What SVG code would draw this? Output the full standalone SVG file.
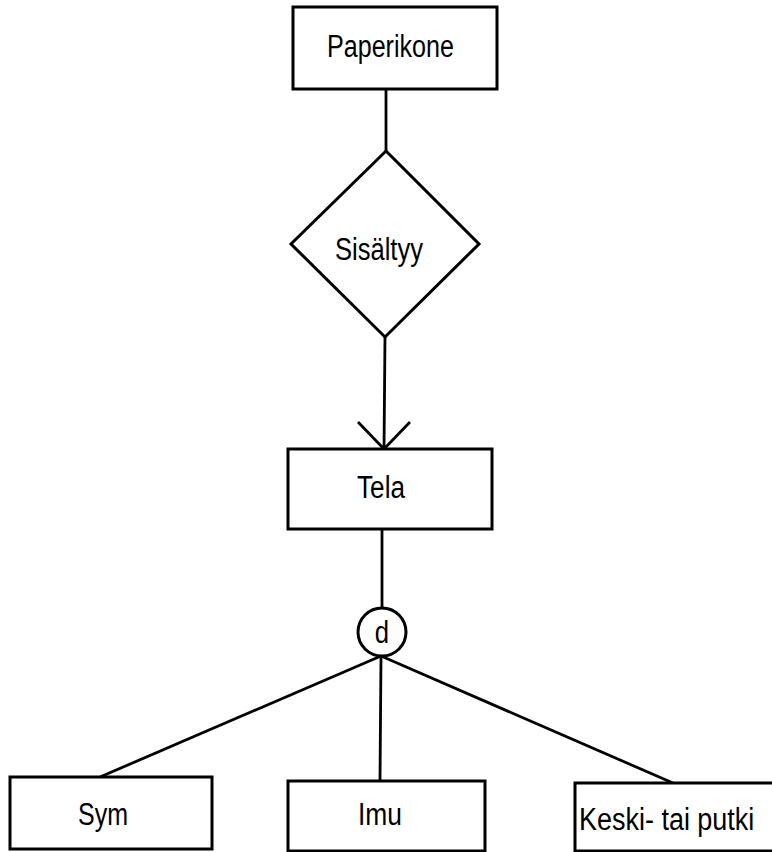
<svg xmlns="http://www.w3.org/2000/svg" width="772" height="852" viewBox="0 0 772 852">
  <style>
    .box { fill: #fff; stroke: #000; stroke-width: 3; }
    .edge { fill: none; stroke: #000; stroke-width: 2.8; }
    .lbl { font-family: "Liberation Sans", Arial, sans-serif; font-size: 31px; fill: #000; }
  </style>
  <rect width="772" height="852" fill="#fff"/>

  <g id="connectors">
    <line class="edge" x1="386" y1="89" x2="386" y2="151"/>
    <line class="edge" x1="385" y1="337" x2="384" y2="449"/>
    <polyline class="edge" points="358,422 384,449 410,422"/>
    <line class="edge" x1="382" y1="529" x2="382" y2="608"/>
    <line class="edge" x1="381" y1="656" x2="100" y2="777"/>
    <line class="edge" x1="381" y1="656" x2="380" y2="781"/>
    <line class="edge" x1="381" y1="656" x2="673" y2="783"/>
  </g>

  <g id="paperikone">
    <rect class="box" x="293" y="7" width="204" height="82"/>
    <text class="lbl" x="327" y="57" textLength="127" lengthAdjust="spacingAndGlyphs">Paperikone</text>
  </g>

  <g id="sisaltyy">
    <polygon class="box" points="386,151 479,244 385,337 291,244"/>
    <text class="lbl" x="335" y="260" textLength="88" lengthAdjust="spacingAndGlyphs">Sisältyy</text>
  </g>

  <g id="tela">
    <rect class="box" x="288" y="449" width="204" height="80"/>
    <text class="lbl" x="357" y="498" textLength="48" lengthAdjust="spacingAndGlyphs">Tela</text>
  </g>

  <g id="disjoint">
    <circle class="box" cx="382" cy="632" r="24"/>
    <text class="lbl" x="382" y="643" text-anchor="middle" transform="translate(382 0) scale(0.83 1) translate(-382 0)">d</text>
  </g>

  <g id="sym">
    <rect class="box" x="10" y="777" width="202" height="72"/>
    <text class="lbl" x="78" y="825" textLength="50" lengthAdjust="spacingAndGlyphs">Sym</text>
  </g>

  <g id="imu">
    <rect class="box" x="288" y="781" width="197" height="70"/>
    <text class="lbl" x="358" y="825" textLength="44" lengthAdjust="spacingAndGlyphs">Imu</text>
  </g>

  <g id="keski-tai-putki">
    <!-- box runs off the right margin: only top, left and bottom sides show -->
    <rect x="575" y="783" width="197" height="68" fill="#fff"/>
    <path d="M772,783 H575 V851 H772" fill="none" stroke="#000" stroke-width="3"/>
    <text class="lbl" transform="translate(579 830) scale(0.87 1)">Keski- tai putki</text>
  </g>
</svg>
